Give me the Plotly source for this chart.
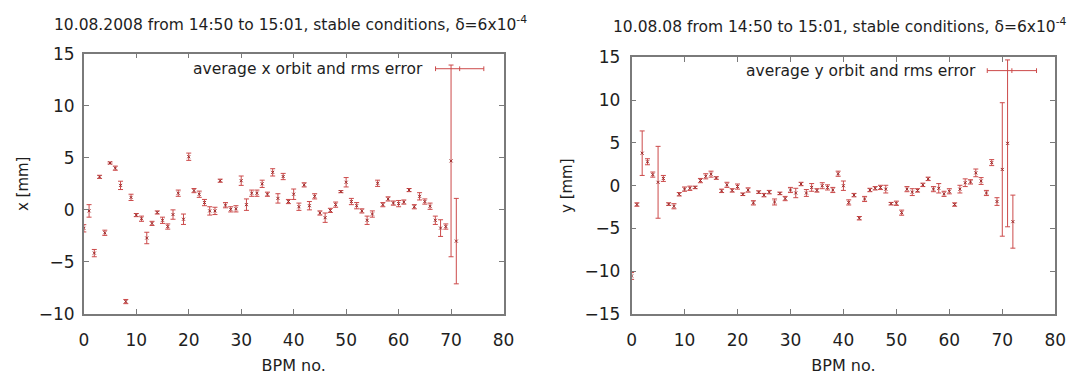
import plotly.graph_objects as go

# ---------------- data ----------------
bpm_x = list(range(72))
x_orbit = [-1.77, -0.1, -4.15, 3.17, -2.2, 4.5, 4.0, 2.35, -8.8, 1.2,
           -0.5, -0.85, -2.7, -1.3, -0.25, -1.0, -1.6, -0.45, 1.6, -0.9,
           5.1, 1.85, 1.5, 0.7, -0.1, -0.1, 2.8, 0.45, 0.05, 0.1,
           2.8, 0.5, 1.6, 1.6, 2.5, 1.5, 3.6, 1.1, 3.2, 0.8,
           1.5, 0.3, 2.4, 0.4, 1.3, -0.3, -0.75, -0.05, 0.5, 1.75,
           2.65, 0.8, 0.4, -0.1, -1.0, -0.4, 2.55, 0.5, 1.05, 0.65,
           0.6, 0.75, 1.9, 0.3, 1.3, 0.8, 0.35, -1.0, -1.75, -1.6,
           4.7, -3.0]
x_err = [0.35, 0.6, 0.35, 0.15, 0.25, 0.1, 0.2, 0.4, 0.2, 0.3,
         0.15, 0.25, 0.55, 0.2, 0.15, 0.3, 0.25, 0.45, 0.3, 0.5,
         0.35, 0.2, 0.3, 0.3, 0.4, 0.35, 0.15, 0.25, 0.25, 0.3,
         0.45, 0.55, 0.3, 0.3, 0.35, 0.2, 0.35, 0.45, 0.3, 0.2,
         0.5, 0.35, 0.2, 0.4, 0.25, 0.2, 0.45, 0.2, 0.25, 0.1,
         0.45, 0.3, 0.3, 0.2, 0.4, 0.3, 0.3, 0.2, 0.2, 0.2,
         0.3, 0.2, 0.15, 0.2, 0.35, 0.25, 0.3, 0.4, 0.8, 0.25,
         9.2, 4.1]

bpm_y = list(range(73))
y_orbit = [-10.55, -2.2, 3.8, 2.8, 1.3, 0.4, 0.85, -2.15, -2.4, -1.0,
           -0.4, -0.3, -0.2, 0.6, 1.1, 1.35, 0.9, -0.6, 0.1, -0.55,
           -0.1, -1.0, -0.5, -2.0, -0.75, -1.1, -0.75, -1.9, -0.9, -1.5,
           -0.5, -0.85, 0.2, -0.85, -0.2, -0.55, 0.0, -0.2, -0.5, 1.4,
           0.0, -1.95, -1.1, -3.8, -1.55, -0.5, -0.3, -0.2, -0.4, -2.1,
           -2.05, -3.15, -0.4, -0.75, -0.55, 0.1, 0.8, -0.4, -0.3, -0.95,
           -0.65, -2.2, -0.4, 0.35, 0.45, 1.5, 0.55, -0.85, 2.7, -1.85,
           1.9, 4.95, -4.2]
y_err = [0.4, 0.2, 2.6, 0.35, 0.3, 4.2, 0.35, 0.15, 0.3, 0.2,
         0.25, 0.25, 0.15, 0.25, 0.3, 0.35, 0.15, 0.2, 0.3, 0.2,
         0.3, 0.15, 0.25, 0.25, 0.15, 0.2, 0.2, 0.35, 0.15, 0.25,
         0.3, 0.55, 0.2, 0.4, 0.45, 0.2, 0.35, 0.3, 0.3, 0.3,
         0.55, 0.3, 0.2, 0.2, 0.3, 0.2, 0.2, 0.25, 0.45, 0.15,
         0.25, 0.3, 0.3, 0.4, 0.2, 0.2, 0.2, 0.3, 0.55, 0.3,
         0.3, 0.2, 0.45, 0.45, 0.25, 0.45, 0.4, 0.3, 0.35, 0.45,
         7.8, 9.75, 3.1]

x_ticks = [0, 10, 20, 30, 40, 50, 60, 70, 80]
left_yticks = [-10, -5, 0, 5, 10, 15]
right_yticks = [-15, -10, -5, 0, 5, 10, 15]

title_left = "10.08.2008 from 14:50 to 15:01, stable conditions, \u03b4=6x10<sup>-4</sup>"
title_right = "10.08.08 from 14:50 to 15:01, stable conditions, \u03b4=6x10<sup>-4</sup>"
legend_left = "average x orbit and rms error"
legend_right = "average y orbit and rms error"

# ---------------- layout geometry (pixels) ----------------
W, H = 1082, 379
FONT = "DejaVu Sans, Liberation Sans, sans-serif"
TXT = "#1e1e1e"
BAR = "#cc4a4a"
MARK = "#9c2a2a"
FRAME = "#7a7a7a"

def px(x):
    return x / W

def py(y):
    return 1 - y / H

L = dict(x0=80, x1=506, y0=46, y1=321)
R = dict(x0=636, x1=1066, y0=50, y1=321)

fig = go.Figure()

def add_series(xs, ys, es, xa, ya):
    fig.add_trace(go.Scatter(
        x=xs, y=ys, mode="markers", xaxis=xa, yaxis=ya, showlegend=False,
        marker=dict(symbol="x-thin", size=3, color=MARK, line=dict(width=1, color=MARK)),
        error_y=dict(type="data", array=es, visible=True, color=BAR, thickness=1, width=2.5),
    ))

add_series(bpm_x, x_orbit, x_err, "x", "y")
add_series(bpm_y, y_orbit, y_err, "x2", "y2")

axis_common = dict(showline=True, linecolor=FRAME, linewidth=1.5, mirror="ticks",
                   ticks="inside", ticklen=5, tickcolor=FRAME, showgrid=False,
                   zeroline=False, tickfont=dict(family=FONT, size=17, color=TXT))
xtitle_font = dict(family=FONT, size=16, color=TXT)

fig.update_layout(
    width=W, height=H, margin=dict(l=0, r=0, t=0, b=0),
    paper_bgcolor="white", plot_bgcolor="white",
    xaxis=dict(domain=[px(L["x0"]), px(L["x1"])], range=[0, 80], tickvals=x_ticks,
               anchor="y", ticklabelstandoff=10,
               title=dict(text="BPM no.", font=xtitle_font, standoff=11),
               **axis_common),
    yaxis=dict(domain=[py(L["y1"]), py(L["y0"])], range=[-10, 15], tickvals=left_yticks,
               anchor="x", ticklabelstandoff=4,
               title=dict(text="x [mm]", font=dict(family=FONT, size=15, color=TXT), standoff=7),
               **axis_common),
    xaxis2=dict(domain=[px(R["x0"]), px(R["x1"])], range=[0, 80], tickvals=x_ticks,
                anchor="y2", ticklabelstandoff=10,
                title=dict(text="BPM no.", font=xtitle_font, standoff=11),
                **axis_common),
    yaxis2=dict(domain=[py(R["y1"]), py(R["y0"])], range=[-15, 15], tickvals=right_yticks,
                anchor="x2", ticklabelstandoff=6,
                title=dict(text="y [mm]", font=dict(family=FONT, size=15, color=TXT), standoff=8),
                **axis_common),
)

annotations = [
    dict(text=title_left, x=px(290), y=py(14), xref="paper", yref="paper",
         showarrow=False, font=dict(family=FONT, size=15.5, color=TXT), xanchor="center", yanchor="middle"),
    dict(text=title_right, x=px(848), y=py(16), xref="paper", yref="paper",
         showarrow=False, font=dict(family=FONT, size=15.5, color=TXT), xanchor="center", yanchor="middle"),
    dict(text=legend_left, x=px(426), y=py(62), xref="paper", yref="paper",
         showarrow=False, font=dict(family=FONT, size=15.5, color=TXT), xanchor="right", yanchor="middle"),
    dict(text=legend_right, x=px(988), y=py(64), xref="paper", yref="paper",
         showarrow=False, font=dict(family=FONT, size=15.5, color=TXT), xanchor="right", yanchor="middle"),
]
fig.update_layout(annotations=annotations)

# legend samples (horizontal error bar key)
shapes = []
for (a, b, yy) in [(437, 486, 62), (997, 1047, 64)]:
    shapes.append(dict(type="line", xref="paper", yref="paper", x0=px(a), x1=px(b), y0=py(yy), y1=py(yy),
                       line=dict(color=BAR, width=1)))
    for xx in (a, (a + b) / 2, b):
        shapes.append(dict(type="line", xref="paper", yref="paper", x0=px(xx), x1=px(xx),
                           y0=py(yy - 2.5), y1=py(yy + 2.5), line=dict(color=BAR, width=1)))
fig.update_layout(shapes=shapes)

fig.write_html("out.html")
